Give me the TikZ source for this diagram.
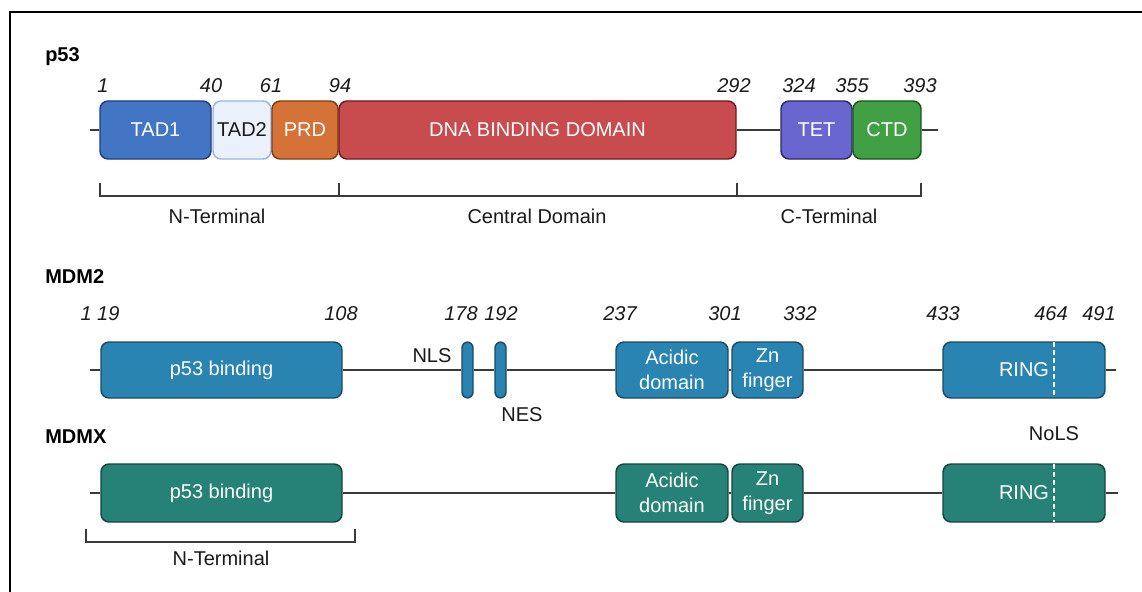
\documentclass[tikz,border=0pt]{standalone}
\usepackage{fontspec}
\setmainfont{Liberation Sans}
\usetikzlibrary{calc}

\definecolor{ink}{HTML}{1A1A1A}
\definecolor{wire}{HTML}{3A3A3A}
\definecolor{tadoneF}{HTML}{4275C3}\definecolor{tadoneD}{HTML}{1E3E7E}
\definecolor{tadtwoF}{HTML}{EAF1FA}\definecolor{tadtwoD}{HTML}{9AB6DE}
\definecolor{prdF}{HTML}{D47238}\definecolor{prdD}{HTML}{7D3E17}
\definecolor{dbdF}{HTML}{C84C4E}\definecolor{dbdD}{HTML}{72181C}
\definecolor{tetF}{HTML}{6966CF}\definecolor{tetD}{HTML}{2B2864}
\definecolor{ctdF}{HTML}{42A044}\definecolor{ctdD}{HTML}{1C551E}
\definecolor{mdmtwoF}{HTML}{2A84B2}\definecolor{mdmtwoD}{HTML}{1B4B66}
\definecolor{mdmxF}{HTML}{268176}\definecolor{mdmxD}{HTML}{15463F}

\begin{document}
\begin{tikzpicture}[x=0.75pt,y=-0.75pt,
  dom/.style={draw, rounded corners=6pt, line width=1.1pt, inner sep=0pt,
    text=white, align=center, font=\fontsize{15}{18.5}\selectfont},
  wd/.style={minimum width=#1*0.75pt},
  ht/.style={minimum height=#1*0.75pt},
  blue2/.style={dom, fill=mdmtwoF, draw=mdmtwoD},
  teal2/.style={dom, fill=mdmxF, draw=mdmxD},
  num/.style={anchor=base, text=ink, inner sep=0pt, font=\itshape\fontsize{15}{18}\selectfont},
  lbl/.style={anchor=base, text=ink, inner sep=0pt, font=\fontsize{15}{18}\selectfont},
  head/.style={anchor=base west, text=black, inner sep=0pt, font=\bfseries\fontsize{15}{18}\selectfont},
  backbone/.style={draw=wire, line width=1.1pt},
  bracket/.style={draw=wire, line width=1.4pt},
  nols/.style={draw=white, line width=1.2pt, dash pattern=on 3.5pt off 2.5pt}]
\useasboundingbox (0,0) rectangle (1142,592);
\fill[white] (0,0) rectangle (1142,592);

% outer frame
\draw[line width=1.5pt, black] (10,620) -- (10,12) -- (1170,12);

% ---------------- p53 ----------------
\node[head] (hp53) at (45,62) {p53};
\coordinate (p53s) at (90,130);
\coordinate (p53e) at (938,130);
\node[dom, wd=111, ht=58, fill=tadoneF, draw=tadoneD] (tad1) at (155.5,130) {TAD1};
\node[dom, wd=58, ht=58, fill=tadtwoF, draw=tadtwoD, text=ink] (tad2) at (242,130) {TAD2};
\node[dom, wd=66, ht=58, fill=prdF, draw=prdD] (prd) at (305,130) {PRD};
\node[dom, wd=397, ht=58, fill=dbdF, draw=dbdD] (dbd) at (537.5,130) {DNA BINDING DOMAIN};
\node[dom, wd=71, ht=58, fill=tetF, draw=tetD] (tet) at (816.5,130) {TET};
\node[dom, wd=68, ht=58, fill=ctdF, draw=ctdD] (ctd) at (887,130) {CTD};
\draw[backbone] (p53s) -- (tad1.west);
\draw[backbone] (dbd.east) -- (tet.west);
\draw[backbone] (ctd.east) -- (p53e);

\node[num] (n1) at (103,93) {1};
\node[num] (n40) at (211,93) {40};
\node[num] (n61) at (271,93) {61};
\node[num] (n94) at (340,93) {94};
\node[num] (n292) at (734,93) {292};
\node[num] (n324) at (799,93) {324};
\node[num] (n355) at (852,93) {355};
\node[num] (n393) at (920,93) {393};

% p53 regions
\draw[bracket] (100,183) -- (100,196) -- (921,196) -- (921,183);
\draw[bracket] (339,183) -- (339,196);
\draw[bracket] (737,183) -- (737,196);
\node[lbl] (nterm) at (217,223) {N-Terminal};
\node[lbl] (central) at (537,223) {Central Domain};
\node[lbl] (cterm) at (829,223) {C-Terminal};

% ---------------- MDM2 ----------------
\node[head] (hmdm2) at (45,283) {MDM2};
\coordinate (m2s) at (90,370);
\coordinate (m2e) at (1116,370);
\node[blue2, wd=241, ht=56] (m2pb) at (221.5,370) {p53 binding};
\node[blue2, wd=11, ht=56, rounded corners=4.5pt] (nls) at (467.5,370) {};
\node[blue2, wd=11, ht=56, rounded corners=4.5pt] (nes) at (500.5,370) {};
\node[blue2, wd=112, ht=56] (m2ac) at (672,370) {Acidic\\domain};
\node[blue2, wd=71, ht=56] (m2zn) at (767.5,370) {Zn\\finger};
\node[blue2, wd=162, ht=56] (m2ring) at (1024,370) {RING};
\draw[backbone] (m2s) -- (m2pb.west);
\draw[backbone] (m2pb.east) -- (nls.west);
\draw[backbone] (nls.east) -- (nes.west);
\draw[backbone] (nes.east) -- (m2ac.west);
\draw[backbone] (m2ac.east) -- (m2zn.west);
\draw[backbone] (m2zn.east) -- (m2ring.west);
\draw[backbone] (m2ring.east) -- (m2e);
\coordinate (m2cut) at (1054,370);
\draw[nols] ([yshift=-0.6pt]m2cut |- m2ring.north) -- ([yshift=0.6pt]m2cut |- m2ring.south);

\node[num] (m1) at (100,320) {1 19};
\node[num] (m108) at (341,320) {108};
\node[num] (m178) at (461,320) {178};
\node[num] (m192) at (501,320) {192};
\node[num] (m237) at (620,320) {237};
\node[num] (m301) at (725,320) {301};
\node[num] (m332) at (800,320) {332};
\node[num] (m433) at (943,320) {433};
\node[num] (m464) at (1051,320) {464};
\node[num] (m491) at (1099,320) {491};

\node[lbl] (nlsl) at (432,362) {NLS};
\node[lbl] (nesl) at (522,421) {NES};
\node[lbl] (nolsl) at (1054,440) {NoLS};

% ---------------- MDMX ----------------
\node[head] (hmdmx) at (45,443) {MDMX};
\coordinate (mxs) at (90,493);
\coordinate (mxe) at (1118,493);
\node[teal2, wd=241, ht=58] (mxpb) at (221.5,493) {p53 binding};
\node[teal2, wd=112, ht=58] (mxac) at (672,493) {Acidic\\domain};
\node[teal2, wd=71, ht=58] (mxzn) at (767.5,493) {Zn\\finger};
\node[teal2, wd=162, ht=58] (mxring) at (1024,493) {RING};
\draw[backbone] (mxs) -- (mxpb.west);
\draw[backbone] (mxpb.east) -- (mxac.west);
\draw[backbone] (mxac.east) -- (mxzn.west);
\draw[backbone] (mxzn.east) -- (mxring.west);
\draw[backbone] (mxring.east) -- (mxe);
\coordinate (mxcut) at (1054,493);
\draw[nols] ([yshift=-0.6pt]mxcut |- mxring.north) -- ([yshift=0.6pt]mxcut |- mxring.south);

\draw[bracket] (86,529) -- (86,542) -- (355,542) -- (355,529);
\node[lbl] (mxnterm) at (221,565) {N-Terminal};
\end{tikzpicture}
\end{document}
